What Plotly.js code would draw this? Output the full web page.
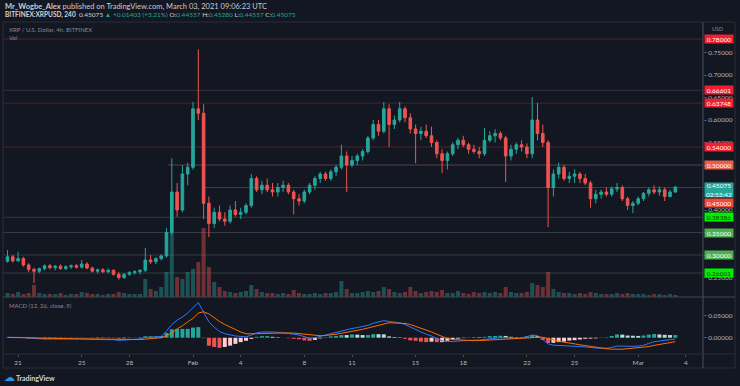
<!DOCTYPE html>
<html><head><meta charset="utf-8">
<script src="https://cdn.plot.ly/plotly-3.0.1.min.js"></script>
<style>html,body{margin:0;padding:0;background:#131722;overflow:hidden}#chart{width:740px;height:386px}</style>
</head><body><div id="chart"></div>
<script>
// ---- DATA (XRP/USD, 8h steps starting 2021-01-20 08:00 UTC) ----
const startUTC = [2021, 0, 20, 8];
const stepHours = 8;
const openP = [.286,.296,.287,.292,.278,.268,.264,.270,.276,.272,.275,.270,.274,.276,.273,.280,.271,.264,.267,.263,
.266,.257,.250,.257,.261,.263,.266,.289,.285,.292,.298,.350,.440,.400,.480,.495,.625,.615,.415,.370,
.395,.380,.375,.400,.390,.395,.410,.470,.445,.455,.445,.440,.450,.455,.440,.425,.420,.440,.455,.470,
.480,.470,.485,.495,.520,.500,.510,.520,.530,.560,.590,.575,.625,.590,.600,.625,.605,.580,.570,.575,
.565,.550,.525,.510,.525,.545,.555,.545,.535,.530,.525,.555,.565,.570,.560,.520,.535,.545,.540,.525,
.600,.570,.550,.450,.480,.495,.470,.475,.480,.470,.460,.425,.435,.440,.435,.447,.450,.425,.410,.415,
.425,.437,.445,.440,.445,.430,.440];
const highP = [.311,.300,.307,.296,.282,.272,.272,.279,.280,.278,.279,.277,.279,.280,.289,.284,.274,.270,.271,.270,
.268,.262,.260,.264,.266,.268,.316,.300,.295,.302,.360,.515,.460,.500,.505,.640,.757,.635,.430,.405,
.410,.395,.410,.420,.405,.415,.480,.475,.465,.470,.460,.460,.465,.460,.445,.435,.445,.460,.475,.485,
.485,.490,.500,.545,.530,.520,.525,.535,.565,.600,.600,.640,.635,.610,.640,.630,.615,.590,.585,.590,
.585,.555,.535,.530,.550,.560,.565,.550,.545,.540,.582,.575,.580,.575,.565,.545,.550,.555,.548,.651,
.638,.590,.555,.490,.505,.500,.485,.490,.485,.480,.465,.445,.445,.450,.452,.460,.455,.430,.420,.430,
.440,.450,.455,.452,.450,.445,.453];
const lowP = [.283,.283,.284,.274,.262,.238,.260,.266,.268,.266,.267,.266,.269,.270,.270,.268,.261,.259,.260,.259,
.254,.245,.247,.254,.256,.257,.262,.280,.280,.288,.294,.345,.385,.395,.455,.490,.600,.380,.340,.360,
.375,.365,.370,.385,.380,.390,.405,.440,.435,.440,.430,.430,.440,.435,.390,.410,.415,.435,.445,.460,
.465,.465,.475,.490,.440,.495,.500,.510,.525,.555,.565,.570,.540,.580,.595,.595,.570,.504,.555,.560,
.540,.515,.482,.490,.520,.535,.540,.525,.525,.515,.520,.550,.550,.555,.462,.510,.525,.530,.515,.515,
.555,.540,.362,.430,.470,.465,.460,.460,.460,.455,.405,.415,.425,.430,.430,.440,.420,.400,.393,.410,
.420,.430,.435,.432,.420,.428,.438];
const closeP = [.296,.287,.292,.278,.268,.264,.270,.276,.272,.275,.270,.274,.276,.273,.280,.271,.264,.267,.263,.266,
.257,.250,.257,.261,.263,.266,.289,.285,.292,.298,.350,.440,.400,.480,.495,.625,.615,.415,.370,.395,
.380,.375,.400,.390,.395,.410,.470,.445,.455,.445,.440,.450,.455,.440,.425,.420,.440,.455,.470,.480,
.470,.485,.495,.520,.500,.510,.520,.530,.560,.590,.575,.625,.590,.600,.625,.605,.580,.570,.575,.565,
.550,.525,.510,.525,.545,.555,.545,.535,.530,.525,.555,.565,.570,.560,.520,.535,.545,.540,.525,.600,
.570,.550,.450,.480,.495,.470,.475,.480,.470,.460,.425,.435,.440,.435,.447,.450,.425,.410,.415,.425,
.437,.445,.440,.445,.430,.440,.451];
const volume = [4,3,5,3,4,12,4,3,3,3,4,2,3,3,5,4,3,3,2,3,
3,5,4,3,3,3,18,8,6,10,25,64,20,18,25,28,35,69,30,15,
10,6,5,4,5,6,12,8,5,4,4,3,4,3,7,4,3,3,4,3,
4,4,5,16,8,4,4,5,6,5,6,10,8,5,4,5,10,6,4,5,
6,5,7,4,4,6,4,3,5,4,5,4,5,4,10,5,4,4,5,14,
12,10,25,8,5,4,4,3,4,3,5,4,3,3,3,4,3,4,3,3,
3,2,3,3,2,3,2];
const macdLine = [0.001,0.001,0.0015,0.0005,-0.001,-0.002,-0.003,-0.003,-0.003,-0.0028,
-0.0028,-0.003,-0.003,-0.003,-0.002,-0.003,-0.004,-0.004,-0.004,-0.004,
-0.0045,-0.006,-0.0055,-0.005,-0.004,-0.003,0.000,0.001,0.002,0.003,
0.015,0.030,0.040,0.047,0.056,0.067,0.080,0.058,0.036,0.024,
0.014,0.009,0.006,0.004,0.003,0.002,0.006,0.011,0.013,0.0136,
0.013,0.0125,0.0114,0.010,0.008,0.006,0.002,-0.001,0.000,0.003,
0.006,0.009,0.012,0.016,0.018,0.021,0.023,0.025,0.028,0.033,
0.036,0.0387,0.037,0.035,0.034,0.030,0.024,0.019,0.013,0.008,
0.004,-0.002,-0.007,-0.009,-0.008,-0.007,-0.0068,-0.006,-0.0055,-0.0053,
-0.004,-0.002,-0.001,0.000,0.000,-0.001,-0.0015,-0.001,0.002,0.006,
0.005,-0.004,-0.014,-0.017,-0.018,-0.019,-0.019,-0.0195,-0.020,-0.0205,
-0.022,-0.0235,-0.0243,-0.024,-0.022,-0.019,-0.019,-0.020,-0.0195,-0.019,
-0.017,-0.013,-0.009,-0.0075,-0.0065,-0.005,-0.003];
const signalLine = [0.0005,0.0007,0.0009,0.0008,0.0004,-0.0002,-0.0009,-0.0013,-0.0017,-0.0020,
-0.0022,-0.0024,-0.0026,-0.0027,-0.0026,-0.0027,-0.0030,-0.0032,-0.0034,-0.0035,
-0.0037,-0.0041,-0.0044,-0.0045,-0.0045,-0.0042,-0.0033,-0.0023,-0.0013,0.0000,
0.004,0.011,0.020,0.027,0.036,0.044,0.056,0.059,0.054,0.045,
0.037,0.030,0.024,0.018,0.013,0.009,0.0085,0.009,0.0095,0.010,
0.011,0.0115,0.0115,0.011,0.0105,0.0095,0.008,0.006,0.005,0.0045,
0.005,0.006,0.008,0.010,0.012,0.0136,0.016,0.019,0.022,0.025,
0.028,0.031,0.034,0.0335,0.033,0.0325,0.030,0.026,0.022,0.018,
0.013,0.008,0.003,-0.002,-0.004,-0.005,-0.006,-0.0068,-0.0068,-0.0065,
-0.006,-0.0055,-0.005,-0.0045,-0.004,-0.003,-0.0025,-0.002,-0.0015,0.000,
0.0015,0.001,-0.002,-0.0055,-0.008,-0.010,-0.0125,-0.014,-0.016,-0.018,
-0.020,-0.022,-0.024,-0.025,-0.026,-0.0265,-0.026,-0.025,-0.024,-0.023,
-0.022,-0.020,-0.0175,-0.015,-0.013,-0.011,-0.009];
const levelPrices = [0.78, 0.66601, 0.63748, 0.54, 0.50, 0.45, 0.38386, 0.35, 0.30, 0.26001];
const levelStart = [null, null, null, null, '2021-01-30 10:15', '2021-02-01 15:00', null, null, null, null];
const lastPrice = 0.45075;
const countdown = '02:53:42';
const timeTickVals = ['2021-01-21','2021-01-25','2021-01-28','2021-02-01','2021-02-04','2021-02-08','2021-02-11',
  '2021-02-15','2021-02-18','2021-02-22','2021-02-25','2021-03-01','2021-03-04'];
const timeTickText = ['21','25','28','Feb','4','8','11','15','18','22','25','Mar','4'];
const priceTicks = [0.25,0.30,0.35,0.40,0.45,0.50,0.55,0.60,0.65,0.70,0.75];
const macdTicks = [0, 0.05];

// ---- STYLES ----
const UP = '#26a69a', DN = '#ef5350';
const levelLineColors = ['#5a2029','#3d2f3b','#4e222c','#4e222c','#55404a','#5e2f33','#313d38','#373c43','#313d38','#313d38'];
const levelBoxColors = ['#f2202f','#f2202f','#f2202f','#f2202f','#e8604c',null,'#00f000','#4caf50','#4caf50','#00f000'];
const levelTextColors = ['#fff','#fff','#fff','#fff','#fff',null,'#1a3a10','#fff','#fff','#1a3a10'];
const FONT = 'Lato, "Open Sans", sans-serif';

const t0 = Date.UTC(...startUTC);
const times = closeP.map((_, i) => new Date(t0 + i * stepHours * 3600e3).toISOString().slice(0, 16).replace('T', ' '));
const isUp = closeP.map((c, i) => c >= openP[i]);
const volColors = isUp.map(u => u ? 'rgba(38,166,154,0.42)' : 'rgba(239,83,80,0.42)');
const hist = macdLine.map((m, i) => m - signalLine[i]);
const histColors = hist.map((h, i) => {
  const p = i > 0 ? hist[i - 1] : 0;
  if (h >= 0) return h >= p ? '#26a69a' : '#b2dfdb';
  return h < p ? '#ef5350' : '#ffcdd2';
});

const xRange = ['2021-01-20 01:13', '2021-03-05 01:48'];
// pixel -> paper helpers (plot area spans x 3..703, y 22..354)
const PX = x => (x - 3) / 700;
const PY = y => (354 - y) / 332;

const traces = [
  {type: 'bar', x: times, y: volume, xaxis: 'x', yaxis: 'y', marker: {color: volColors, line: {width: 0}}, hoverinfo: 'skip'},
  {type: 'candlestick', x: times, open: openP, high: highP, low: lowP, close: closeP, xaxis: 'x', yaxis: 'y3',
    increasing: {line: {color: UP, width: 1}, fillcolor: UP}, decreasing: {line: {color: DN, width: 1}, fillcolor: DN},
    whiskerwidth: 0, hoverinfo: 'skip'},
  {type: 'bar', x: times, y: hist, xaxis: 'x2', yaxis: 'y2', marker: {color: histColors, line: {width: 0}}, hoverinfo: 'skip'},
  {type: 'scatter', mode: 'lines', x: times, y: macdLine, xaxis: 'x2', yaxis: 'y2', line: {color: '#2979ff', width: 1}, hoverinfo: 'skip'},
  {type: 'scatter', mode: 'lines', x: times, y: signalLine, xaxis: 'x2', yaxis: 'y2', line: {color: '#ff6d00', width: 1}, hoverinfo: 'skip'}
];

const shapes = [];
levelPrices.forEach((p, i) => {
  shapes.push({type: 'line', xref: 'x', yref: 'y3', x0: levelStart[i] || xRange[0], x1: xRange[1], y0: p, y1: p,
    line: {color: levelLineColors[i], width: 1}, layer: 'below'});
});
const frame = '#2a2e39';
const sep = '#434651';
[[3,22,735,22,frame],[3,22,3,368,frame],[735,22,735,368,frame],[3,368,735,368,frame],
 [703,22,703,368,'#4a4e59'],[3,297,735,297,sep],[3,354,735,354,frame]].forEach(s => {
  shapes.push({type: 'line', xref: 'paper', yref: 'paper', x0: PX(s[0]), y0: PY(s[1]), x1: PX(s[2]), y1: PY(s[3]),
    line: {color: s[4], width: 1}, layer: 'above'});
});

const ann = [];
function txt(x, y, text, size, color, extra) {
  ann.push(Object.assign({xref: 'paper', yref: 'paper', x: PX(x), y: PY(y), xanchor: 'left', yanchor: 'middle',
    text: text, showarrow: false, font: {family: FONT, size: size, color: color}}, extra || {}));
}
const G = s => '<span style="color:#26a69a">' + s + '</span>';
txt(3, 6, '<b>Mr_Wogbe_Alex</b> published on TradingView.com, March 03, 2021 09:06:23 UTC', 7.5, '#c9ccd4');
txt(3, 15, '<b>BITFINEX:XRPUSD, 240</b>  0.45075 ' + G('▲ +0.01403 (+3.21%)') + ' O:' + G('0.44557') + ' H:' + G('0.45280') +
  ' L:' + G('0.44557') + ' C:' + G('0.45075'), 6.5, '#d1d4dc');
txt(7, 29.5, 'XRP / U.S. Dollar, 4h, BITFINEX', 6, '#868993');
txt(7, 37.5, 'Vol', 6, '#868993');
txt(7, 305, 'MACD (12, 26, close, 9)', 6, '#868993');
txt(710, 28.5, 'USD', 5.5, '#868993');
txt(2, 377, '☁', 11, '#2196f3', {font: {family: 'DejaVu Sans', size: 11, color: '#2196f3'}});
txt(14, 377.5, '<b>TradingView</b>', 7, '#d1d4dc');

// price labels on the right axis
levelPrices.forEach((p, i) => {
  if (!levelBoxColors[i]) return;
  ann.push({xref: 'paper', yref: 'y3', x: 1, y: p, xanchor: 'left', yanchor: 'middle', xshift: 1,
    text: p.toFixed(5), showarrow: false, bgcolor: levelBoxColors[i], width: 28, height: 8, borderpad: 0,
    font: {family: FONT, size: 6.5, color: levelTextColors[i]}});
});
// current price label with countdown
ann.push({xref: 'paper', yref: 'y3', x: 1, y: lastPrice, xanchor: 'left', yanchor: 'top', xshift: 1, yshift: 5,
  text: lastPrice.toFixed(5) + '<br>' + countdown, showarrow: false, bgcolor: '#26a69a', width: 28, height: 14, borderpad: 0,
  font: {family: FONT, size: 6.5, color: '#ffffff'}});
// 0.45 level label (pushed below the current price label)
ann.push({xref: 'paper', yref: 'y3', x: 1, y: levelPrices[5], xanchor: 'left', yanchor: 'middle', xshift: 1, yshift: -15.5,
  text: levelPrices[5].toFixed(5), showarrow: false, bgcolor: '#ef4b3c', width: 28, height: 8, borderpad: 0,
  font: {family: FONT, size: 6.5, color: '#ffffff'}});

const axisFont = {family: FONT, size: 6.5, color: '#b2b5be'};
const layout = {
  width: 740, height: 386, autosize: false,
  margin: {l: 3, r: 37, t: 22, b: 32, pad: 0},
  paper_bgcolor: '#131722', plot_bgcolor: '#131722',
  showlegend: false, hovermode: false, dragmode: false,
  bargap: 0.25,
  font: {family: FONT, color: '#b2b5be'},
  xaxis: {type: 'date', domain: [0, 1], anchor: 'y', range: xRange, showticklabels: false, showgrid: false,
    zeroline: false, showline: false, ticks: '', rangeslider: {visible: false}, fixedrange: true},
  xaxis2: {type: 'date', domain: [0, 1], anchor: 'y2', range: xRange, tickvals: timeTickVals, ticktext: timeTickText,
    tickfont: axisFont, showgrid: false, zeroline: false, showline: false, ticks: 'outside', ticklen: 2,
    tickcolor: '#50535e', rangeslider: {visible: false}, fixedrange: true},
  yaxis: {domain: [57 / 332, 1], anchor: 'x', range: [0, 275], visible: false, fixedrange: true},
  yaxis3: {overlaying: 'y', anchor: 'x', side: 'right', range: [0.2067, 0.8178], tickvals: priceTicks, tickformat: '.5f',
    tickfont: axisFont, showgrid: false, zeroline: false, showline: false, ticks: 'outside', ticklen: 3,
    tickcolor: '#50535e', fixedrange: true},
  yaxis2: {domain: [0, 57 / 332], anchor: 'x2', side: 'right', range: [-0.037, 0.0925], tickvals: macdTicks,
    tickformat: '.5f', tickfont: axisFont, showgrid: false, zeroline: false, showline: false, ticks: 'outside',
    ticklen: 3, tickcolor: '#50535e', fixedrange: true},
  shapes: shapes,
  annotations: ann
};
Plotly.newPlot('chart', traces, layout, {staticPlot: true, displayModeBar: false});
</script></body></html>
